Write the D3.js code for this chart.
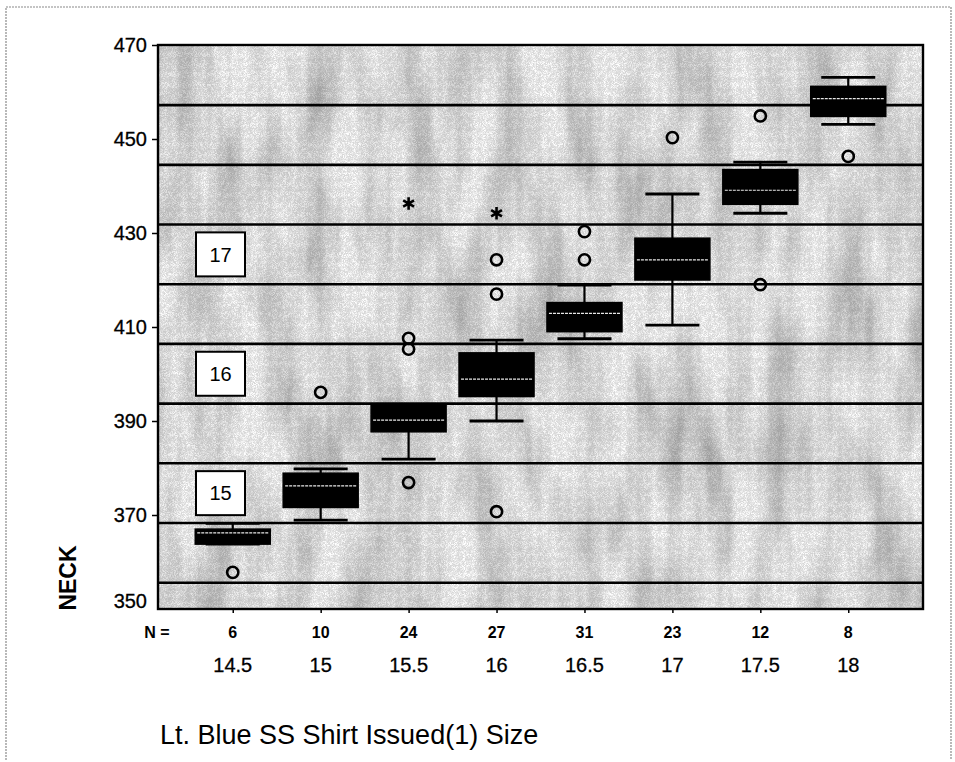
<!DOCTYPE html>
<html>
<head>
<meta charset="utf-8">
<script src="https://cdn.jsdelivr.net/npm/d3@7"></script>
<style>
  html, body { margin: 0; padding: 0; background: #fff; }
  svg { display: block; font-family: "Liberation Sans", Arial, sans-serif; }
</style>
</head>
<body>
<svg id="chart" width="955" height="762"></svg>
<script>
// ---- data ----
const sizes = ["14.5", "15", "15.5", "16", "16.5", "17", "17.5", "18"];
const counts = [6, 10, 24, 27, 31, 23, 12, 8];
const whiskerLow = [363.8, 368.9, 381.9, 390.0, 407.5, 410.4, 434.2, 453.1];
const q1 = [363.8, 371.6, 387.7, 395.2, 409.0, 420.0, 436.1, 454.8];
const median = [366.2, 376.2, 390.2, 398.9, 412.9, 424.3, 439.1, 458.6];
const q3 = [367.0, 378.9, 393.4, 404.5, 415.2, 428.9, 443.5, 461.2];
const whiskerHigh = [368.2, 379.8, 393.4, 407.2, 418.9, 438.3, 445.1, 463.1];

const outlierSize = ["14.5", "15", "15.5", "15.5", "15.5", "16", "16", "16", "16.5", "16.5", "17", "17.5", "17.5", "18"];
const outlierValue = [357.8, 396.1, 407.6, 405.3, 376.9, 424.3, 417.0, 370.7, 430.3, 424.3, 450.3, 454.9, 419.0, 446.3];
const extremeSize = ["15.5", "16"];
const extremeValue = [436.3, 434.2];

// reference lines: collar sizes 14" .. 18" in mm
const refLines = [355.6, 368.3, 381.0, 393.7, 406.4, 419.1, 431.8, 444.5, 457.2];
const bandLabels = ["15", "16", "17"];
const bandLow = [368.3, 393.7, 419.1];
const bandHigh = [381.0, 406.4, 431.8];

const yTicks = [350, 370, 390, 410, 430, 450, 470];
const yTitle = "NECK";
const xTitle = "Lt. Blue SS Shirt Issued(1) Size";

// ---- layout ----
const svg = d3.select("#chart");
const L = 158, R = 923, T = 45, B = 609;

const x = d3.scalePoint().domain(sizes).range([L, R]).padding(0.85);
const y = d3.scaleLinear().domain([350, 470]).range([B, T]);

// outer frame of the figure
svg.append("path")
  .attr("d", `M6,760 L6,7 L951,7 L951,760`)
  .attr("fill", "none").attr("stroke", "#8a8a8a").attr("stroke-width", 1.2)
  .attr("stroke-dasharray", "2 1");

// textured background
const defs = svg.append("defs");
const f = defs.append("filter").attr("id", "tex")
  .attr("x", 0).attr("y", 0).attr("width", 1).attr("height", 1);
f.append("feTurbulence").attr("type", "fractalNoise")
  .attr("baseFrequency", "0.03 0.008").attr("numOctaves", 3).attr("seed", 7).attr("result", "n1");
f.append("feColorMatrix").attr("in", "n1").attr("type", "matrix")
  .attr("values", "0.9 0 0 0 0.38  0.9 0 0 0 0.38  0.9 0 0 0 0.38  0 0 0 0 1").attr("result", "g1");
f.append("feTurbulence").attr("type", "turbulence")
  .attr("baseFrequency", "0.9").attr("numOctaves", 1).attr("seed", 2).attr("result", "n2");
f.append("feColorMatrix").attr("in", "n2").attr("type", "matrix")
  .attr("values", "0.7 0 0 0 0.68  0.7 0 0 0 0.68  0.7 0 0 0 0.68  0 0 0 0 1").attr("result", "g2");
f.append("feBlend").attr("in", "g1").attr("in2", "g2").attr("mode", "multiply");

svg.append("rect")
  .attr("x", L).attr("y", T).attr("width", R - L).attr("height", B - T)
  .attr("fill", "#cccccc").attr("filter", "url(#tex)");

// reference lines
svg.append("g").selectAll("line").data(refLines).join("line")
  .attr("x1", L).attr("x2", R)
  .attr("y1", d => y(d)).attr("y2", d => y(d))
  .attr("stroke", "#000").attr("stroke-width", 2.6);

// band labels
const bl = svg.append("g").selectAll("g").data(bandLabels).join("g");
bl.append("rect")
  .attr("x", L + 38).attr("width", 49)
  .attr("y", (d, i) => (y(bandLow[i]) + y(bandHigh[i])) / 2 - 22)
  .attr("height", 44)
  .attr("fill", "#fff").attr("stroke", "#000").attr("stroke-width", 2);
bl.append("text")
  .attr("x", L + 62.5)
  .attr("y", (d, i) => (y(bandLow[i]) + y(bandHigh[i])) / 2)
  .attr("dy", "0.36em").attr("text-anchor", "middle")
  .attr("font-size", 20).attr("fill", "#000").text(d => d);

// boxplots
const boxW = 75, capW = 54;
const g = svg.append("g");
sizes.forEach((s, i) => {
  const cx = x(s);
  g.append("line").attr("x1", cx).attr("x2", cx)
    .attr("y1", y(whiskerLow[i])).attr("y2", y(whiskerHigh[i]))
    .attr("stroke", "#000").attr("stroke-width", 2.2);
  [whiskerLow[i], whiskerHigh[i]].forEach(v => {
    g.append("line").attr("x1", cx - capW / 2).attr("x2", cx + capW / 2)
      .attr("y1", y(v)).attr("y2", y(v))
      .attr("stroke", "#000").attr("stroke-width", 2.8);
  });
  g.append("rect").attr("x", cx - boxW / 2).attr("width", boxW)
    .attr("y", y(q3[i])).attr("height", y(q1[i]) - y(q3[i]))
    .attr("fill", "#000").attr("stroke", "#000").attr("stroke-width", 1.5);
  g.append("line").attr("x1", cx - boxW / 2 + 2).attr("x2", cx + boxW / 2 - 2)
    .attr("y1", y(median[i])).attr("y2", y(median[i]))
    .attr("stroke", "#e8e8e8").attr("stroke-width", 1.2).attr("stroke-dasharray", "3 1");
});

// outliers
svg.append("g").selectAll("circle").data(outlierValue).join("circle")
  .attr("cx", (d, i) => x(outlierSize[i])).attr("cy", d => y(d))
  .attr("r", 5.6).attr("fill", "none").attr("stroke", "#000").attr("stroke-width", 2.6);

// extremes
svg.append("g").selectAll("path").data(extremeValue).join("path")
  .attr("transform", (d, i) => `translate(${x(extremeSize[i])},${y(d)})`)
  .attr("d", d3.symbol(d3.symbolAsterisk, 110)())
  .attr("fill", "none").attr("stroke", "#000").attr("stroke-width", 2.6);

// plot frame
svg.append("rect").attr("x", L).attr("y", T).attr("width", R - L).attr("height", B - T)
  .attr("fill", "none").attr("stroke", "#000").attr("stroke-width", 2.4);

// y axis
const yAxis = svg.append("g").attr("transform", `translate(${L},0)`)
  .call(d3.axisLeft(y).tickValues(yTicks).tickSize(6).tickPadding(5).tickFormat(d3.format("d")));
yAxis.select(".domain").remove();
yAxis.selectAll(".tick line").attr("stroke", "#000").attr("stroke-width", 1.5);
yAxis.selectAll(".tick text").attr("font-size", 20).attr("fill", "#000")
  .attr("font-family", "Liberation Sans, Arial, sans-serif")
  .attr("stroke", "#000").attr("stroke-width", 0.3)
  .attr("dy", d => d === 350 ? "-0.1em" : "0.34em");
yAxis.selectAll(".tick").filter(d => d === 350).select("line").remove();

// x axis ticks and labels
const xAxis = svg.append("g").attr("transform", `translate(0,${B})`)
  .call(d3.axisBottom(x).tickSize(4).tickFormat(""));
xAxis.select(".domain").remove();
xAxis.selectAll(".tick line").attr("stroke", "#000").attr("stroke-width", 1.5);

svg.append("g").selectAll("text").data(counts).join("text")
  .attr("x", (d, i) => x(sizes[i])).attr("y", 632).attr("dy", "0.35em")
  .attr("text-anchor", "middle").attr("font-size", 16).attr("font-weight", "bold")
  .text(d => d);
svg.append("text").attr("x", 157).attr("y", 632).attr("dy", "0.35em")
  .attr("text-anchor", "middle").attr("font-size", 16).attr("font-weight", "bold")
  .text("N =");

svg.append("g").selectAll("text").data(sizes).join("text")
  .attr("x", d => x(d)).attr("y", 665).attr("dy", "0.35em")
  .attr("text-anchor", "middle").attr("font-size", 20)
  .attr("stroke", "#000").attr("stroke-width", 0.3).text(d => d);

// titles
svg.append("text").attr("x", 160).attr("y", 735).attr("dy", "0.35em")
  .attr("font-size", 27).attr("fill", "#000").text(xTitle);
svg.append("text")
  .attr("transform", "translate(68,578) rotate(-90)")
  .attr("text-anchor", "middle").attr("dy", "0.36em")
  .attr("font-size", 23).attr("font-weight", "bold").text(yTitle);
</script>
</body>
</html>
